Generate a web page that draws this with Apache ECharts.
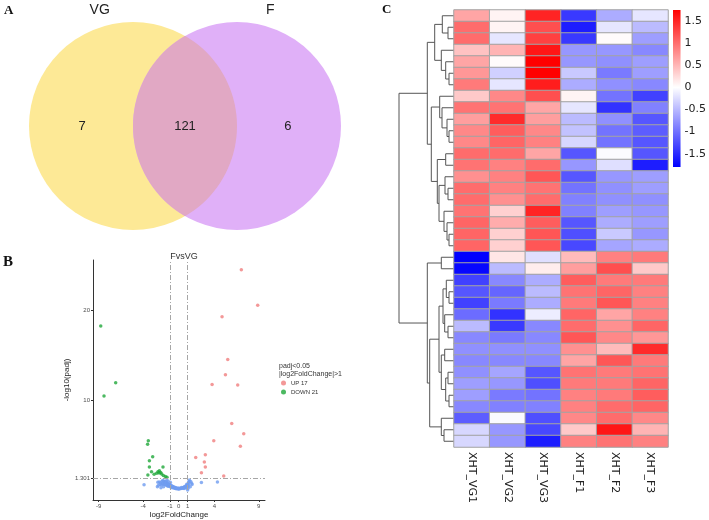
<!DOCTYPE html>
<html>
<head>
<meta charset="utf-8">
<script src="https://cdn.jsdelivr.net/npm/echarts@6/dist/echarts.min.js"></script>
<style>
  html, body { margin: 0; padding: 0; background: #fff; }
  #chart { width: 709px; height: 520px; }
</style>
</head>
<body>
<div id="chart"></div>
<script>
// ---- A: Venn ----
const vennSets = ['VG', 'F'];
const vennCounts = [7, 121, 6]; // VG only, shared, F only

// ---- B: volcano (log2FoldChange, -log10(padj)) ----
const fcCut = 1;
const padjCut = 1.301;
const xTicks = [-9, -4, -1, 0, 1, 4, 9];
const yTicks = [1.301, 10, 20];
const upPoints = [
  [7.04, 24.5], [8.88, 20.55], [4.87, 19.27], [5.51, 14.49], [5.25, 12.8],
  [3.75, 11.7], [6.63, 11.66], [5.96, 7.36], [7.31, 6.22], [3.94, 5.45],
  [6.93, 4.82], [2.99, 3.87], [1.91, 3.57], [2.88, 3.06], [2.99, 2.5],
  [2.55, 1.88], [5.06, 1.51]
];
const downPoints = [
  [-8.77, 18.24], [-7.09, 11.92], [-8.4, 10.44], [-3.42, 5.45], [-3.5, 5.04],
  [-2.93, 3.65], [-3.3, 3.21], [-3.3, 2.5], [-3.06, 1.99], [-3.47, 1.62],
  [-1.77, 2.5], [-2.33, 1.99], [-2.18, 2.1], [-2.03, 1.9], [-2.48, 1.8],
  [-1.92, 1.73], [-2.2, 1.84], [-1.5, 1.44], [-1.32, 1.37], [-1.73, 1.55],
  [-2.77, 1.69]
];
const nsPoints = [
  [-3.9, 0.52], [2.55, 0.77], [4.35, 0.84], [1.0, -0.05],
  [-2.35, 0.8], [-2.2, 0.85], [-2.05, 0.75], [-1.9, 0.9], [-1.8, 1.0], [-1.7, 0.95],
  [-1.6, 0.85], [-1.5, 0.9], [-1.4, 0.8], [-1.3, 0.7], [-1.2, 0.65], [-1.1, 0.6],
  [-2.4, 0.3], [-2.3, 0.45], [-2.1, 0.55], [-1.95, 0.5], [-1.85, 0.62], [-1.75, 0.7],
  [-1.65, 0.55], [-1.55, 0.6], [-1.45, 0.52], [-1.35, 0.45], [-1.25, 0.4], [-1.15, 0.35],
  [-1.05, 0.42], [-0.95, 0.3], [-0.85, 0.25], [-0.75, 0.2], [-0.65, 0.3], [-0.55, 0.18],
  [-0.45, 0.15], [-0.35, 0.12], [-0.25, 0.08], [-0.15, 0.1], [-0.05, 0.05], [0.05, 0.07],
  [0.15, 0.1], [0.25, 0.12], [0.35, 0.15], [0.45, 0.2], [0.55, 0.25], [0.65, 0.3],
  [0.75, 0.35], [0.85, 0.4], [0.95, 0.5], [1.05, 0.6], [1.1, 0.75], [1.15, 0.9],
  [1.2, 1.05], [1.0, 0.3], [0.9, 0.6], [0.8, 0.2], [-0.9, 0.5], [-1.0, 0.55],
  [-0.8, 0.4], [-0.7, 0.35], [-0.6, 0.28], [-0.5, 0.25], [-0.4, 0.22], [-0.3, 0.2],
  [-0.2, 0.15], [0.0, 0.18], [0.3, 0.22], [0.5, 0.15], [0.7, 0.2], [1.1, 0.45],
  [1.05, 0.15], [0.6, 0.1], [-1.7, 0.3], [-2.0, 0.2], [-1.2, 0.95], [-1.35, 1.0],
  [-0.95, 0.8], [1.35, 0.9], [1.45, 0.7], [1.5, 0.55], [1.3, 0.3]
];

// ---- C: heatmap (z-scores), rows top to bottom ----
const sampleNames = ['XHT_VG1', 'XHT_VG2', 'XHT_VG3', 'XHT_F1', 'XHT_F2', 'XHT_F3'];
const heatValues = [
  [0.6, 0.05, 1.5, -1.4, -0.6, -0.2],
  [1.0, 0.05, 1.2, -1.6, -0.2, -0.5],
  [1.0, -0.2, 1.3, -1.4, 0.0, -0.7],
  [0.4, 0.5, 1.6, -0.75, -0.75, -0.85],
  [0.6, 0.0, 1.75, -0.75, -0.8, -0.7],
  [0.7, -0.35, 1.75, -0.4, -0.95, -0.7],
  [0.9, -0.2, 1.55, -0.6, -0.8, -0.85],
  [0.35, 0.8, 1.2, 0.05, -1.0, -1.35],
  [0.95, 0.95, 0.6, -0.2, -1.45, -0.9],
  [0.65, 1.45, 0.65, -0.5, -0.8, -1.2],
  [0.8, 1.1, 0.8, -0.45, -1.0, -1.15],
  [0.8, 1.05, 0.85, -0.3, -1.0, -1.2],
  [1.0, 1.0, 0.6, -1.2, -0.05, -1.2],
  [0.95, 0.85, 1.0, -0.75, -0.25, -1.6],
  [0.75, 0.85, 1.15, -1.2, -0.75, -0.7],
  [1.0, 0.85, 0.95, -1.0, -0.8, -0.7],
  [1.0, 0.75, 1.0, -0.9, -0.8, -0.8],
  [0.95, 0.3, 1.5, -0.9, -0.7, -0.75],
  [1.05, 0.55, 1.1, -1.2, -0.6, -0.7],
  [1.05, 0.3, 1.15, -1.25, -0.4, -0.75],
  [1.05, 0.3, 1.15, -1.3, -0.65, -0.6],
  [-1.8, 0.15, -0.25, 0.45, 0.85, 0.9],
  [-1.75, -0.5, 0.1, 0.65, 1.2, 0.35],
  [-1.35, -0.85, -0.6, 1.1, 0.9, 0.9],
  [-1.2, -1.1, -0.5, 0.95, 1.05, 0.85],
  [-1.35, -0.95, -0.6, 0.9, 1.15, 0.85],
  [-1.05, -1.45, -0.15, 1.05, 0.6, 0.85],
  [-0.5, -1.4, -0.85, 1.0, 0.75, 1.05],
  [-0.85, -0.95, -0.85, 1.15, 0.8, 0.7],
  [-0.8, -0.8, -0.8, 0.75, 0.45, 1.45],
  [-0.85, -0.85, -0.85, 0.6, 1.15, 0.9],
  [-0.8, -0.65, -1.2, 0.95, 0.9, 0.95],
  [-0.7, -0.75, -1.25, 0.9, 0.9, 1.05],
  [-0.7, -0.95, -1.0, 0.85, 0.9, 1.1],
  [-0.85, -0.9, -0.9, 0.85, 1.0, 1.05],
  [-1.15, -0.05, -1.25, 0.8, 1.0, 0.8],
  [-0.3, -0.75, -1.3, 0.35, 1.6, 0.5],
  [-0.3, -0.75, -1.6, 0.85, 0.95, 0.85]
];
const colorTicks = [-1.5, -1, -0.5, 0, 0.5, 1, 1.5];
const colorMin = -1.8, colorMax = 1.75;

// row dendrogram: [height, left, right], leaves are row indices
const rowTree = [55,
  [26.7,
    [19.3, [11.7, 0, [6, 1, 2]], [12.7, 3, [8.3, 4, [5, 5, 6]]]],
    [22.7,
      [14.3, 7, [12, 8, [7, 9, [5, 10, 11]]]],
      [16.7, [8.3, 12, 13], [15, [9, 14, [6, 15, 16]], [10, 17, [7, 18, [5, 19, 20]]]]]]],
  [26.7,
    [12.7, 21, 22],
    [24.3,
      [15,
        [11, [7.7, 23, [5, 24, 25]], [9.3, 26, [6, 27, 28]]],
        [12.7, [9.3, 29, 30], [8.3, [6, 31, 32], [5, 33, 34]]]],
      [12.7, 35, [10, 36, 37]]]]
];

// flatten tree into line segments [x1, y1, x2, y2]
const dendroSegs = [];
function walk(node){
  if(typeof node === 'number') return { h: 0, y: node };
  const a = walk(node[1]), b = walk(node[2]);
  const h = node[0];
  dendroSegs.push([a.h, a.y, h, a.y], [b.h, b.y, h, b.y], [h, a.y, h, b.y]);
  return { h, y: (a.y + b.y) / 2 };
}
walk(rowTree);

const heatData = [];
heatValues.forEach((row, r) => row.forEach((v, c) => heatData.push([c, r, v])));
const rowNames = heatValues.map((_, i) => 'r' + (i + 1));

const chart = echarts.init(document.getElementById('chart'));
const sans = '"Liberation Sans", Arial, sans-serif';
const axisGrey = '#333';

chart.setOption({
  backgroundColor: '#fff',
  animation: false,
  textStyle: { fontFamily: sans },
  title: [
    { text: 'FvsVG', left: 179, top: 247, textAlign: 'center',
      textStyle: { fontSize: 9, fontWeight: 'normal', color: '#333' } },
    { text: 'padj<0.05\n|log2FoldChange|>1', left: 274, top: 357,
      textStyle: { fontSize: 7, fontWeight: 'normal', color: '#333', lineHeight: 8 } }
  ],
  legend: {
    data: ['UP ' + upPoints.length, 'DOWN ' + downPoints.length],
    orient: 'vertical', left: 276, top: 375, itemGap: 3,
    itemWidth: 5, itemHeight: 5, icon: 'circle',
    textStyle: { fontSize: 6, color: '#333' }
  },
  graphic: [
    { type: 'text', left: 4, top: 4, style: { text: 'A', font: 'bold 13px "Liberation Serif", serif', fill: '#111' } },
    { type: 'text', left: 3, top: 255, style: { text: 'B', font: 'bold 15px "Liberation Serif", serif', fill: '#111' } },
    { type: 'text', left: 382, top: 3, style: { text: 'C', font: 'bold 13px "Liberation Serif", serif', fill: '#111' } }
  ],
  grid: [
    { left: 29, top: 1, width: 312, height: 250 },
    { left: 93, top: 260, width: 172, height: 243 },
    { left: 399, top: 10, width: 55, height: 437 },
    { left: 454, top: 10, width: 214, height: 437 },
    { left: 673, top: 10, width: 10, height: 157 }
  ],
  xAxis: [
    { gridIndex: 0, type: 'value', min: -1.5, max: 1.5, show: false },
    { gridIndex: 1, type: 'value', min: -9.64, max: 9.7,
      splitLine: { show: false },
      axisLine: { onZero: false, lineStyle: { color: axisGrey } },
      axisTick: { customValues: xTicks, length: 2, lineStyle: { color: axisGrey } },
      axisLabel: { customValues: xTicks, fontSize: 6, color: '#4d4d4d', margin: 3 },
      name: 'log2FoldChange', nameLocation: 'middle', nameGap: 11,
      nameTextStyle: { fontSize: 8, color: '#222' } },
    { gridIndex: 2, type: 'value', min: 0, max: 55, inverse: true, show: false },
    { gridIndex: 3, type: 'category', data: sampleNames,
      axisLine: { show: false }, axisTick: { show: false },
      axisLabel: { interval: 0, rotate: -90, fontSize: 11, margin: 5, color: '#222',
        fontFamily: '"DejaVu Sans", sans-serif' } },
    { gridIndex: 4, type: 'value', min: 0, max: 1, show: false }
  ],
  yAxis: [
    { gridIndex: 0, type: 'value', min: -1.2, max: 1.2, show: false },
    { gridIndex: 1, type: 'value', min: -1.17, max: 25.6,
      splitLine: { show: false },
      axisLine: { show: true, onZero: false, lineStyle: { color: axisGrey } },
      axisTick: { show: true, customValues: yTicks, length: 2, lineStyle: { color: axisGrey } },
      axisLabel: { customValues: yTicks, fontSize: 6, color: '#4d4d4d', margin: 3 },
      name: '-log10(padj)', nameLocation: 'middle', nameGap: 17, nameRotate: 90,
      nameTextStyle: { fontSize: 8, color: '#222' } },
    { gridIndex: 2, type: 'value', min: -0.5, max: heatValues.length - 0.5, inverse: true, show: false },
    { gridIndex: 3, type: 'category', data: rowNames, inverse: true, show: false },
    { gridIndex: 4, type: 'value', min: colorMin, max: colorMax, position: 'right',
      splitLine: { show: false }, axisLine: { show: false }, axisTick: { show: false },
      axisLabel: { customValues: colorTicks, fontSize: 11, color: '#222', margin: 4,
        fontFamily: '"DejaVu Sans", sans-serif' } }
  ],
  visualMap: {
    show: false, seriesIndex: 5, min: colorMin, max: colorMax,
    inRange: { color: ['#0000ff', '#ffffff', '#ff0000'] }
  },
  series: [
    {
      type: 'custom', xAxisIndex: 0, yAxisIndex: 0, data: [0], silent: true,
      renderItem(params, api){
        const r = api.size([1, 0])[0];
        const cL = api.coord([-0.5, 0]), cR = api.coord([0.5, 0]);
        const half = Math.acos(0.5);
        const lens = [];
        for(let i = 0; i <= 40; i++){
          const t = -half + 2 * half * i / 40;
          lens.push(api.coord([-0.5 + Math.cos(t), Math.sin(t)]));
        }
        for(let i = 0; i <= 40; i++){
          const t = Math.PI - half + 2 * half * i / 40;
          lens.push(api.coord([0.5 + Math.cos(t), Math.sin(t)]));
        }
        const txt = (x, y, s, size) => {
          const p = api.coord([x, y]);
          return { type: 'text', x: p[0], y: p[1],
            style: { text: String(s), fill: '#222', font: size + 'px "Liberation Sans", Arial',
              align: 'center', verticalAlign: 'middle' } };
        };
        return { type: 'group', children: [
          { type: 'circle', shape: { cx: cL[0], cy: cL[1], r }, style: { fill: '#fde996' } },
          { type: 'circle', shape: { cx: cR[0], cy: cR[1], r }, style: { fill: '#e0b0f8' } },
          { type: 'polygon', shape: { points: lens }, style: { fill: '#e1a8c4' } },
          txt(-0.82, 1.11, vennSets[0], 14),
          txt(0.82, 1.11, vennSets[1], 14),
          txt(-0.99, 0, vennCounts[0], 13),
          txt(0, 0, vennCounts[1], 13),
          txt(0.99, 0, vennCounts[2], 13)
        ] };
      }
    },
    {
      name: 'NS', type: 'scatter', xAxisIndex: 1, yAxisIndex: 1, data: nsPoints,
      symbolSize: 3.5, itemStyle: { color: '#6f9cf0' },
      markLine: {
        silent: true, symbol: 'none', label: { show: false },
        lineStyle: { color: '#a6a6a6', width: 1, type: [5, 2, 1, 2] },
        data: [{ xAxis: -fcCut }, { xAxis: fcCut }, { yAxis: padjCut }]
      }
    },
    {
      name: 'UP ' + upPoints.length, type: 'scatter', xAxisIndex: 1, yAxisIndex: 1,
      data: upPoints, symbolSize: 3.5, itemStyle: { color: '#f07e7e' }
    },
    {
      name: 'DOWN ' + downPoints.length, type: 'scatter', xAxisIndex: 1, yAxisIndex: 1,
      data: downPoints, symbolSize: 3.5, itemStyle: { color: '#1fa83a' }
    },
    {
      type: 'custom', xAxisIndex: 2, yAxisIndex: 2, data: dendroSegs, silent: true,
      renderItem(params, api){
        const p1 = api.coord([api.value(0), api.value(1)]);
        const p2 = api.coord([api.value(2), api.value(3)]);
        return { type: 'line', shape: { x1: p1[0], y1: p1[1], x2: p2[0], y2: p2[1] },
          style: { stroke: '#555', lineWidth: 1 } };
      }
    },
    {
      type: 'heatmap', xAxisIndex: 3, yAxisIndex: 3, data: heatData,
      itemStyle: { borderColor: '#a3a3a3', borderWidth: 1 }
    },
    {
      type: 'custom', xAxisIndex: 4, yAxisIndex: 4, data: [[0, 1, colorMin, colorMax]], silent: true,
      renderItem(params, api){
        const tl = api.coord([api.value(0), api.value(3)]);
        const br = api.coord([api.value(1), api.value(2)]);
        const mid = colorMax / (colorMax - colorMin);
        return { type: 'rect',
          shape: { x: tl[0], y: tl[1], width: br[0] - tl[0], height: br[1] - tl[1] },
          style: { fill: new echarts.graphic.LinearGradient(0, 0, 0, 1, [
            { offset: 0, color: '#ff0000' }, { offset: mid, color: '#ffffff' }, { offset: 1, color: '#0000ff' }
          ]) } };
      }
    }
  ]
});
</script>
</body>
</html>
